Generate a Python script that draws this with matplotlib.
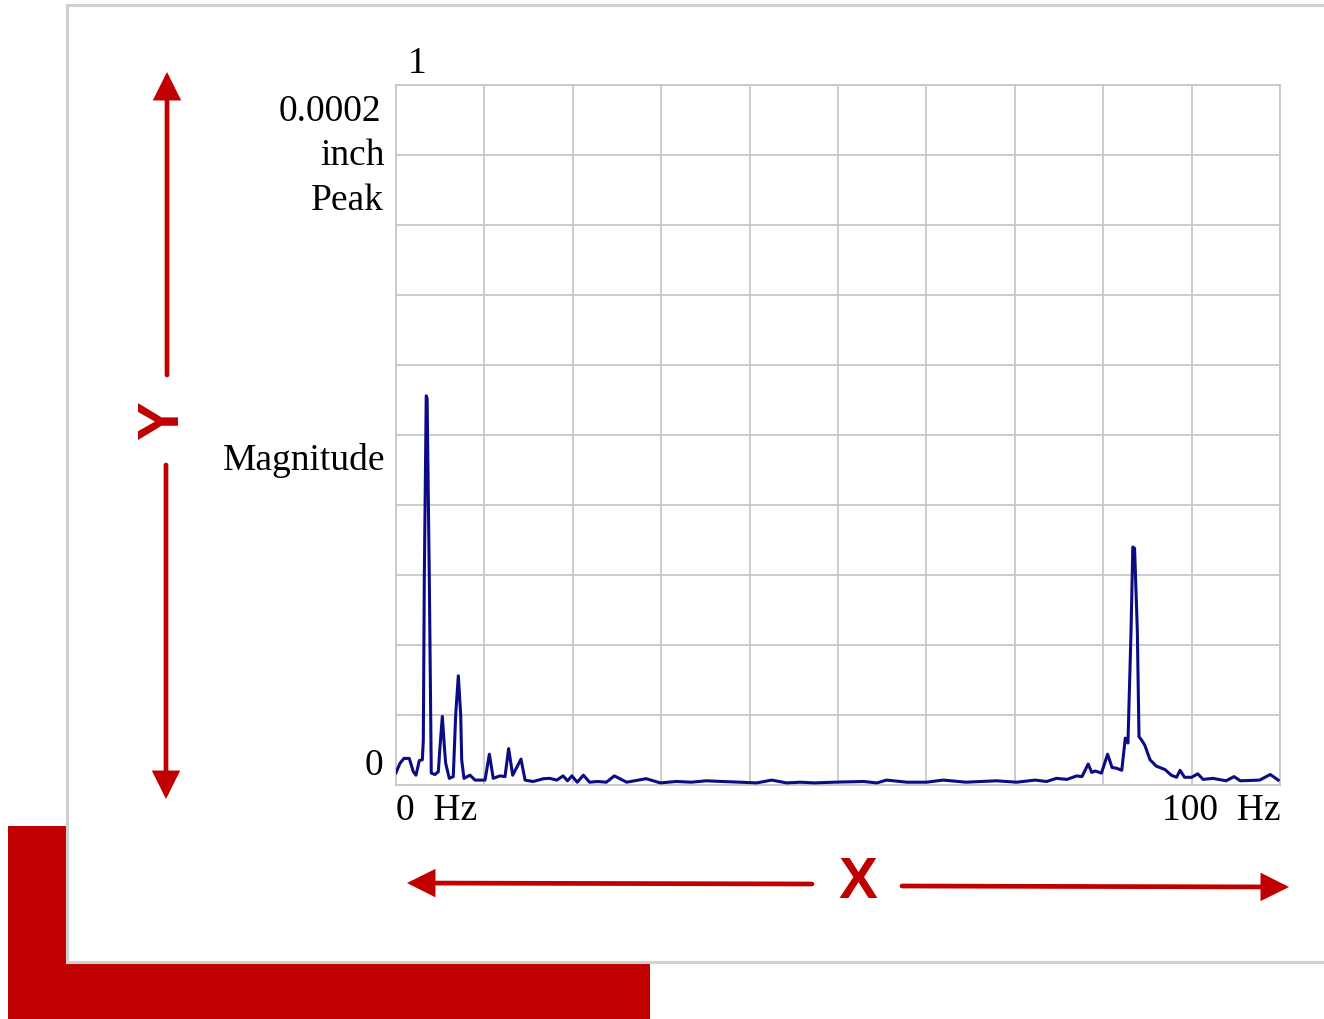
import numpy as np
import matplotlib.pyplot as plt
from matplotlib.patches import Rectangle

# vibration spectrum, frequency in Hz and magnitude as a fraction of full scale
freq = [0.0, 0.45, 0.9, 1.5, 1.96, 2.26, 2.64, 2.98, 3.09, 3.2, 3.42, 3.52, 3.77,
        3.99, 4.41, 4.79, 4.98, 5.24, 5.47, 5.62, 6.03, 6.48, 6.75, 7.05, 7.32,
        7.43, 7.69, 8.37, 8.94, 10.07, 10.56, 11.0, 11.76, 12.33, 12.74, 13.2,
        14.14, 14.6, 15.5, 16.7, 17.4, 18.2, 18.9, 19.4, 19.9, 20.5, 21.2, 21.9,
        22.8, 23.8, 24.7, 26.1, 28.3, 29.9, 31.7, 33.4, 35.1, 36.9, 38.9, 40.8,
        42.5, 44.2, 45.7, 47.3, 49.5, 52.9, 54.4, 55.5, 57.8, 60.0, 61.9, 64.5,
        67.9, 70.2, 72.3, 73.6, 74.7, 75.9, 77.0, 77.6, 78.3, 78.7, 79.1, 79.8,
        80.5, 81.0, 81.5, 82.1, 82.5, 82.8, 83.15, 83.35, 83.55, 83.86, 84.05,
        84.35, 84.7, 85.3, 86.0, 87.0, 87.7, 88.3, 88.7, 89.2, 90.0, 90.7, 91.3,
        92.4, 93.9, 94.8, 95.5, 97.7, 98.9, 99.8]
mag = [0.0176, 0.031, 0.038, 0.038, 0.019, 0.014, 0.035, 0.036, 0.064, 0.293,
       0.556, 0.552, 0.293, 0.017, 0.015, 0.019, 0.055, 0.098, 0.055, 0.031,
       0.0095, 0.012, 0.10, 0.156, 0.10, 0.036, 0.0095, 0.014, 0.007, 0.007,
       0.044, 0.0095, 0.013, 0.012, 0.052, 0.014, 0.037, 0.007, 0.005, 0.009,
       0.0095, 0.007, 0.013, 0.006, 0.013, 0.004, 0.014, 0.004, 0.005, 0.004,
       0.013, 0.004, 0.009, 0.003, 0.005, 0.004, 0.006, 0.005, 0.004, 0.003,
       0.007, 0.003, 0.004, 0.003, 0.004, 0.005, 0.003, 0.007, 0.004, 0.004,
       0.007, 0.004, 0.006, 0.004, 0.007, 0.005, 0.0095, 0.008, 0.013, 0.012,
       0.030, 0.018, 0.020, 0.017, 0.044, 0.025, 0.024, 0.021, 0.067, 0.060,
       0.221, 0.340, 0.338, 0.221, 0.069, 0.064, 0.057, 0.036, 0.027, 0.022,
       0.014, 0.011, 0.021, 0.011, 0.011, 0.016, 0.008, 0.0095, 0.006, 0.012,
       0.006, 0.007, 0.015, 0.007]

red = "#c00000"
navy = "#0b0b85"
grid_grey = "#c8c8c8"
serif = "Liberation Serif"

fig = plt.figure(figsize=(13.24, 10.19), dpi=100)

# background layer in pixel coordinates
bg = fig.add_axes([0, 0, 1, 1], zorder=0)
bg.set_xlim(0, 1324)
bg.set_ylim(1019, 0)
bg.axis("off")

bg.add_patch(Rectangle((8, 826), 642, 193, facecolor=red, edgecolor="none", zorder=1))
bg.add_patch(Rectangle((67, 5), 1300, 957, facecolor="white", edgecolor="#d0d0d0",
                       lw=2.2, zorder=2))

arrow = dict(arrowstyle="-|>,head_length=0.5,head_width=0.25", color=red, lw=3.4,
             mutation_scale=30, shrinkA=0, shrinkB=0, joinstyle="miter")
bg.annotate("", xy=(167, 72), xytext=(167, 375), arrowprops=arrow, zorder=3)
bg.annotate("", xy=(166, 799), xytext=(166, 465), arrowprops=arrow, zorder=3)
bg.annotate("", xy=(407, 883), xytext=(812, 884), arrowprops=arrow, zorder=3)
bg.annotate("", xy=(1289, 887), xytext=(902, 886), arrowprops=arrow, zorder=3)

bg.text(163, 421, "Y", rotation=90, ha="center", va="center", color=red,
        fontsize=42, fontweight="bold", family="Liberation Sans", zorder=3)
bg.text(858, 883, "X", ha="center", va="center", color=red,
        fontsize=42, fontweight="bold", family="Liberation Sans", zorder=3)

txt = dict(fontsize=27, family=serif, color="black", zorder=3)
bg.text(408, 73, "1", ha="left", va="baseline", **txt)
bg.text(381, 121, "0.0002", ha="right", va="baseline", **txt)
bg.text(385, 165, "inch", ha="right", va="baseline", **txt)
bg.text(384, 210, "Peak", ha="right", va="baseline", **txt)
bg.text(385, 470, "Magnitude", ha="right", va="baseline", **txt)
bg.text(383, 775, "0", ha="right", va="baseline", **txt)
bg.text(396, 820, "0  Hz", ha="left", va="baseline", **txt)
bg.text(1281, 820, "100  Hz", ha="right", va="baseline", **txt)

# spectrum plot
ax = fig.add_axes([396 / 1324, 234 / 1019, 884 / 1324, 700 / 1019], zorder=1)
ax.set_facecolor("white")
ax.plot(freq, mag, color=navy, lw=2.2, solid_joinstyle="round", zorder=3)
ax.set_xlim(0, 100)
ax.set_ylim(0, 1)
ax.set_xticks(np.arange(0, 101, 10))
ax.set_yticks(np.arange(0, 1.01, 0.1))
ax.tick_params(length=0, labelbottom=False, labelleft=False)
ax.grid(True, color=grid_grey, lw=1.3)
ax.set_axisbelow(True)
for s in ax.spines.values():
    s.set_color(grid_grey)
    s.set_linewidth(1.3)

fig.savefig("out.png", dpi=100)
